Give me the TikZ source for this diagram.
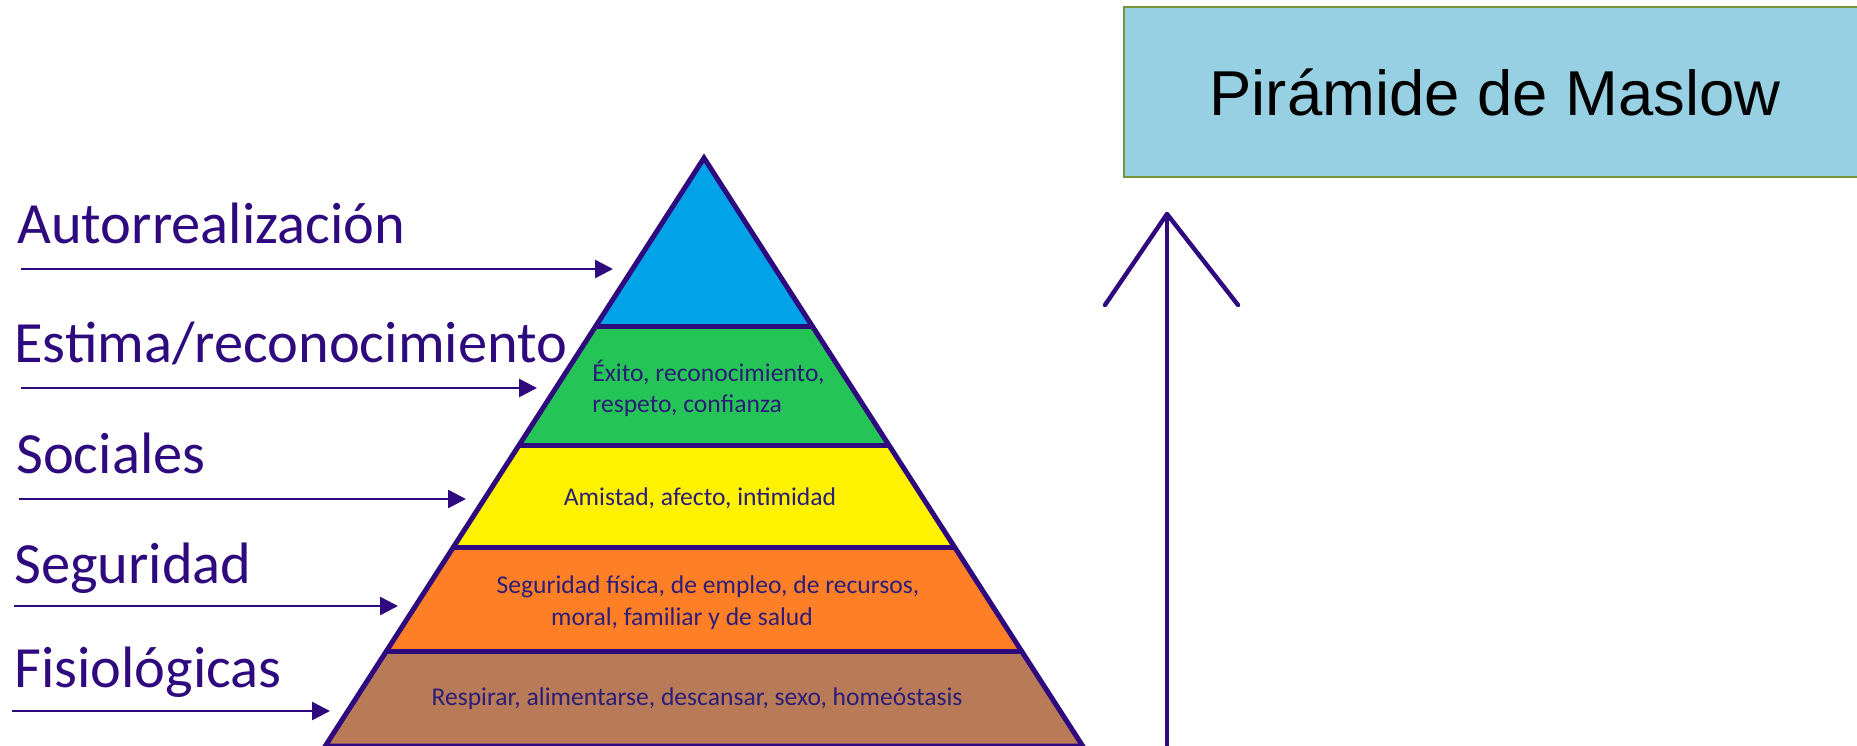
\documentclass[tikz,border=0pt]{standalone}
\usepackage{fontspec}
\setmainfont{Carlito}
\newfontfamily\arialfont{Liberation Sans}
\usetikzlibrary{arrows.meta,calc}
\definecolor{ind}{HTML}{2E0A7E}
\definecolor{ptext}{HTML}{2B1D78}
\definecolor{cblue}{HTML}{00A2E8}
\definecolor{cgreen}{HTML}{25C456}
\definecolor{cyellow}{HTML}{FFF200}
\definecolor{corange}{HTML}{FF7F27}
\definecolor{cbrown}{HTML}{B97A57}
\definecolor{boxblue}{HTML}{96D0E2}
\definecolor{boxgreen}{HTML}{77933C}
\tikzset{
  lab/.style={inner sep=0pt, anchor=base west, text=ind, font=\fontsize{29.2}{35}\selectfont},
  ptxt/.style={inner sep=0pt, text=ptext, font=\fontsize{12.8}{15}\selectfont},
  larrow/.style={draw=ind, line width=1.3pt, -{Triangle[length=9pt,width=9pt]}},
  pyr/.style={draw=ind, line width=2.5pt},
  vline/.style={draw=ind, line width=2.2pt, line cap=round, line join=round},
  titlebox/.style={draw=boxgreen, fill=boxblue, line width=1.25pt, minimum width=371pt,
    minimum height=85pt, inner sep=0pt, text height=23pt, text depth=0pt,
    font=\arialfont\fontsize{31.7}{38}\selectfont}
}
\begin{document}
\begin{tikzpicture}[x=0.5pt,y=-0.5pt]
\useasboundingbox (0,0) rectangle (1857,745);
\clip (0,0) rectangle (1857,745);
\fill[white] (0,0) rectangle (1857,745);

% pyramid corners
\coordinate (apex) at (704,158);
\coordinate (bl) at (325.3,746);
\coordinate (br) at (1082.7,746);
\coordinate (l1) at ($(apex)!0.2874!(bl)$);
\coordinate (r1) at ($(apex)!0.2874!(br)$);
\coordinate (l2) at ($(apex)!0.4881!(bl)$);
\coordinate (r2) at ($(apex)!0.4881!(br)$);
\coordinate (l3) at ($(apex)!0.6616!(bl)$);
\coordinate (r3) at ($(apex)!0.6616!(br)$);
\coordinate (l4) at ($(apex)!0.8401!(bl)$);
\coordinate (r4) at ($(apex)!0.8401!(br)$);

\fill[cblue] (apex) -- (r1) -- (l1) -- cycle;
\fill[cgreen] (l1) -- (r1) -- (r2) -- (l2) -- cycle;
\fill[cyellow] (l2) -- (r2) -- (r3) -- (l3) -- cycle;
\fill[corange] (l3) -- (r3) -- (r4) -- (l4) -- cycle;
\fill[cbrown] (l4) -- (r4) -- (br) -- (bl) -- cycle;
\draw[pyr] (l1) -- (r1);
\draw[pyr] (l2) -- (r2);
\draw[pyr] (l3) -- (r3);
\draw[pyr] (l4) -- (r4);
\draw[pyr, line join=miter] (apex) -- (bl) -- (br) -- cycle;

% texts in pyramid
\node[ptxt, anchor=base west] (t2a) at (592,381) {Éxito, reconocimiento,};
\node[ptxt, anchor=base west] (t2b) at (592,412) {respeto, confianza};
\node[ptxt, anchor=base] (t3) at (700,505) {Amistad, afecto, intimidad};
\node[ptxt, anchor=base] (t4a) at (708,593) {Seguridad física, de empleo, de recursos,};
\node[ptxt, anchor=base] (t4b) at (682,625) {moral, familiar y de salud};
\node[ptxt, anchor=base] (t5) at (697,705) {Respirar, alimentarse, descansar, sexo, homeóstasis};

% left labels
\node[lab] (n1) at (17,243) {Autorrealización};
\node[lab] (n2) at (14,362) {Estima/reconocimiento};
\node[lab] (n3) at (16,473) {Sociales};
\node[lab] (n4) at (14,583) {Seguridad};
\node[lab] (n5) at (14,687) {Fisiológicas};

% left arrows
\coordinate (a1s) at (21,269);  \coordinate (a1e) at (613,269);
\coordinate (a2s) at (21,388);  \coordinate (a2e) at (537,388);
\coordinate (a3s) at (19,499);  \coordinate (a3e) at (466,499);
\coordinate (a4s) at (14,606);  \coordinate (a4e) at (398,606);
\coordinate (a5s) at (12,711);  \coordinate (a5e) at (330,711);
\draw[larrow] (a1s) -- (a1e);
\draw[larrow] (a2s) -- (a2e);
\draw[larrow] (a3s) -- (a3e);
\draw[larrow] (a4s) -- (a4e);
\draw[larrow] (a5s) -- (a5e);

% vertical arrow
\coordinate (vb) at (1167,760);
\coordinate (vt) at (1167,214);
\coordinate (vl) at (1105,305);
\coordinate (vr) at (1238,305);
\draw[vline] (vb) -- (vt);
\draw[vline] (vl) -- (vt) -- (vr);

% title
\node[titlebox] (title) at (1495,92) {Pirámide de Maslow};
\end{tikzpicture}
\end{document}
